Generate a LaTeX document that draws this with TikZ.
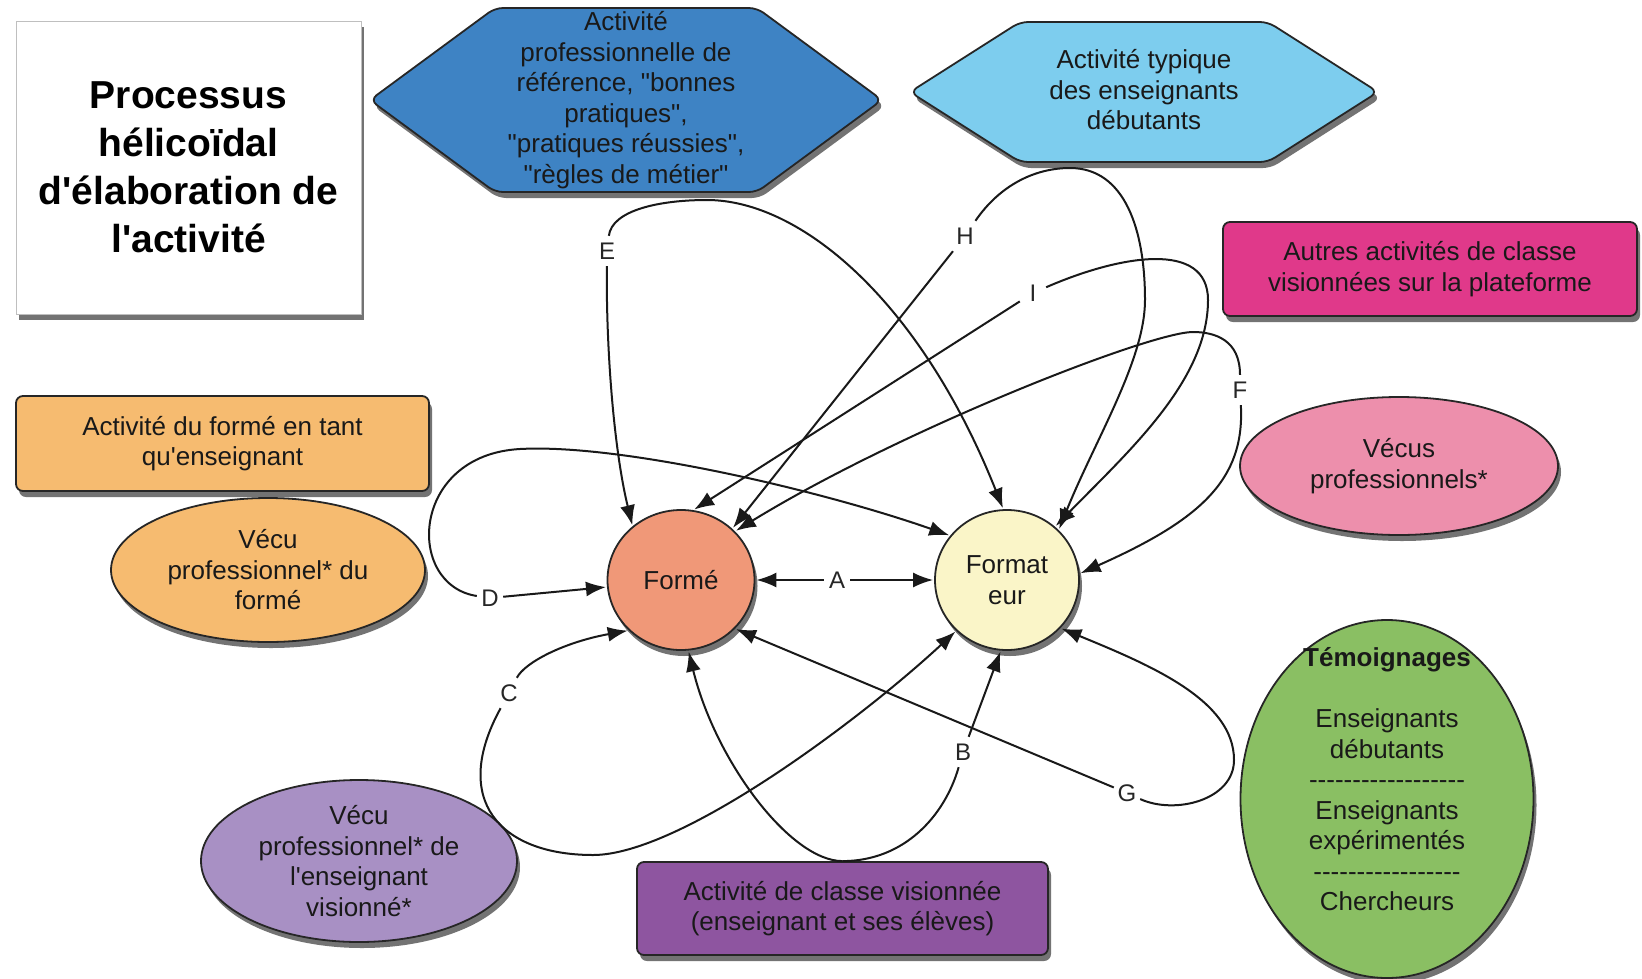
\documentclass[tikz,border=0pt]{standalone}
\usepackage{fontspec}
\newfontfamily\lsans{Liberation Sans}
\usetikzlibrary{shapes.geometric,arrows.meta,shadows}
\definecolor{cref}{RGB}{62,131,196}
\definecolor{ctyp}{RGB}{125,205,238}
\definecolor{cmag}{RGB}{224,57,138}
\definecolor{corange}{RGB}{246,187,112}
\definecolor{cforme}{RGB}{240,152,120}
\definecolor{cformat}{RGB}{250,245,200}
\definecolor{cpink}{RGB}{237,143,172}
\definecolor{cgreen}{RGB}{138,191,99}
\definecolor{cpurpl}{RGB}{168,144,196}
\definecolor{cpurp}{RGB}{142,85,160}
\newcommand\mydashes[1]{\foreach \k in {1,...,#1}{-\kern0pt}}
\begin{document}
\begin{tikzpicture}[x=1pt,y=-1pt,
  shad/.style={drop shadow={shadow xshift=3pt,shadow yshift=-6pt,opacity=0.55,fill=black}},
  txt/.style={font=\lsans\fontsize{26}{30.5}\selectfont, align=center, text=black!90},
  bx/.style={txt, shad, draw=black!85, line width=1.8pt, rounded corners=7pt, inner sep=0pt},
  el/.style={txt, shad, ellipse, draw=black!85, line width=1.8pt, inner sep=0pt},
  hexa/.style={shad, draw=black!85, line width=1.8pt, rounded corners=8pt},
  lbl/.style={font=\lsans\fontsize{24}{26}\selectfont, inner sep=3pt, minimum width=26pt, minimum height=30pt, text=black!85},
  con/.style={line width=2pt, draw=black!90},
  arr/.style={con, -{Latex[length=20pt,width=15pt]}, shorten >=1pt},
]
\useasboundingbox (0,0) rectangle (1642,978);

% title
\node[draw=black!25, line width=1pt, fill=white, shad, minimum width=345pt, minimum height=293pt,
  align=center, font=\lsans\bfseries\fontsize{39}{48}\selectfont] (title) at (188.5,167.5)
  {Processus\\hélicoïdal\\d'élaboration de\\l'activité};

% hexagons
\draw[hexa, fill=cref] (626,8) -- (757,8) -- (882,100) -- (757,192) -- (495,192) -- (370,100) -- (495,8) -- cycle;
\node[txt] (ref) at (626,100) {Activité\\professionnelle de\\référence, "bonnes\\pratiques",\\"pratiques réussies",\\"règles de métier"};
\draw[hexa, fill=ctyp] (1144,22) -- (1268,22) -- (1378,92) -- (1268,162) -- (1020,162) -- (910,92) -- (1020,22) -- cycle;
\node[txt] (typ) at (1144,90) {Activité typique\\des enseignants\\débutants};

% boxes
\node[bx, fill=cmag, minimum width=414pt, minimum height=94pt] (autres) at (1430,269) {Autres activités de classe\\visionnées sur la plateforme};
\node[bx, fill=corange, minimum width=413pt, minimum height=95pt] (actF) at (222.5,443.5) {Activité du formé en tant\\qu'enseignant};
\node[bx, fill=cpurp, minimum width=411pt, minimum height=93pt] (activ) at (842.5,908.5) {Activité de classe visionnée\\(enseignant et ses élèves)};

% ellipses
\node[el, fill=corange, minimum width=314pt, minimum height=144pt] (vecuF) at (268,570) {Vécu\\professionnel* du\\formé};
\node[el, fill=cpink, minimum width=318pt, minimum height=138pt] (vecus) at (1399,466) {Vécus\\professionnels*};
\node[el, fill=cpurpl, minimum width=316pt, minimum height=162pt, inner ysep=-20pt] (vecuE) at (359,861) {Vécu\\professionnel* de\\l'enseignant\\visionné*};
\node[el, fill=cgreen, minimum width=293pt, minimum height=358pt, inner ysep=-50pt] (temoi) at (1387,799)
  {\textbf{Témoignages}\\[30.5pt]Enseignants\\débutants\\\mydashes{18}\\Enseignants\\expérimentés\\\mydashes{17}\\Chercheurs\\\strut};
\node[el, fill=cforme, minimum width=147pt, minimum height=140pt] (forme) at (681,580) {Formé};
\node[el, fill=cformat, minimum width=144pt, minimum height=140pt] (formateur) at (1007,580) {Format\\eur};

% labels
\node[lbl] (lA) at (837,580) {A};
\node[lbl] (lB) at (963,752) {B};
\node[lbl] (lC) at (509,693) {C};
\node[lbl] (lD) at (490,598) {D};
\node[lbl] (lE) at (607,251) {E};
\node[lbl] (lF) at (1240,390) {F};
\node[lbl] (lG) at (1127,793) {G};
\node[lbl] (lH) at (965,236) {H};
\node[lbl] (lI) at (1033,293) {I};

% auxiliary coordinates
\coordinate (pTop) at (activ.north);
\coordinate (cBot) at (593,855);
\coordinate (dTop) at (520,449);
\coordinate (eTop) at (707,200);
\coordinate (fTop) at (1193,332);
\coordinate (gR) at (1234,760);
\coordinate (hTop) at (1070,168);
\coordinate (hR) at (1145,300);
\coordinate (iR) at (1208,300);

% A
\draw[arr] (lA) -- (forme);
\draw[arr] (lA) -- (formateur);
% B
\draw[con] (pTop) .. controls (905,861) and (945,815) .. (lB);
\draw[arr] (lB) -- (formateur.265);
\draw[arr] (pTop) .. controls (790,861) and (715,760) .. (forme.276);
% C
\draw[arr] (lC) .. controls (525,662) and (565,642) .. (forme.224);
\draw[arr] (lC) .. controls (450,800) and (500,855) .. (cBot) .. controls (680,855) and (860,720) .. (formateur.225);
% D
\draw[arr] (lD) -- (forme);
\draw[arr] (lD) .. controls (405,585) and (410,455) .. (dTop) .. controls (620,443.5) and (820,490) .. (formateur.142);
% E
\draw[arr] (lE) .. controls (606,350) and (614,450) .. (forme.132);
\draw[arr] (lE) .. controls (612,210) and (660,200) .. (eTop) .. controls (800,200) and (920,300) .. (formateur.93);
% F
\draw[arr] (lF) .. controls (1240,340) and (1215,332) .. (fTop) .. controls (1150,332) and (900,430) .. (forme.42);
\draw[arr] (lF) .. controls (1245,480) and (1200,520) .. (formateur.5);
% G
\draw[arr] (lG) -- (forme.318);
\draw[arr] (lG) .. controls (1175,815) and (1234,800) .. (gR) .. controls (1234,700) and (1150,665) .. (formateur.318);
% H
\draw[arr] (lH) -- (forme.45);
\draw[arr] (lH) .. controls (1000,185) and (1035,168) .. (hTop) .. controls (1125,168) and (1145,230) .. (hR) .. controls (1145,360) and (1095,440) .. (formateur.44);
% I
\draw[arr] (lI) -- (forme.80);
\draw[arr] (lI) .. controls (1120,255) and (1208,240) .. (iR) .. controls (1208,380) and (1130,450) .. (formateur.48);
\end{tikzpicture}
\end{document}
